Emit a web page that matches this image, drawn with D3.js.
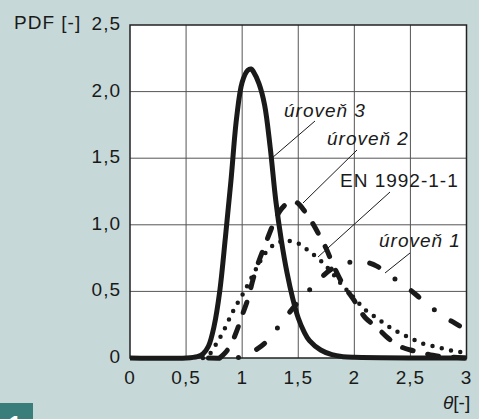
<!DOCTYPE html>
<html lang="cs">
<head>
<meta charset="utf-8">
<title>PDF</title>
<script src="https://cdn.jsdelivr.net/npm/d3@7"></script>
<style>
  body { margin: 0; background: #c6d9d8; }
  text { font-family: "Liberation Sans", Arial, Helvetica, sans-serif; fill: #1a1a1a; }
</style>
</head>
<body>
<script>

    // tick values
    var xTicks = [0, 0.5, 1, 1.5, 2, 2.5, 3];
    var yTicks = [0, 0.5, 1, 1.5, 2, 2.5];

    // úroveň 3 (solid)
    var theta3 = [0, 0.5, 0.6, 0.65, 0.7, 0.75, 0.8, 0.85, 0.9, 0.95, 1.0, 1.05, 1.08, 1.1, 1.15, 1.2, 1.25, 1.3, 1.35, 1.4, 1.45, 1.5, 1.55, 1.6, 1.7, 1.8, 1.9, 2.0, 2.5, 3.0];
    var pdf3 = [0, 0, 0.01, 0.03, 0.09, 0.24, 0.5, 0.9, 1.33, 1.8, 2.07, 2.16, 2.17, 2.15, 2.06, 1.9, 1.58, 1.18, 0.88, 0.64, 0.45, 0.3, 0.2, 0.13, 0.06, 0.025, 0.01, 0.005, 0, 0];

    // úroveň 2 (dashed)
    var theta2 = [0.8, 0.85, 0.9, 0.95, 1.0, 1.05, 1.1, 1.15, 1.2, 1.25, 1.3, 1.35, 1.4, 1.45, 1.5, 1.55, 1.6, 1.65, 1.7, 1.75, 1.8, 1.85, 1.9, 1.95, 2.0, 2.05, 2.1, 2.2, 2.3, 2.4, 2.5, 2.6, 2.7, 2.8, 3.0];
    var pdf2 = [0, 0.04, 0.1, 0.2, 0.32, 0.44, 0.6, 0.73, 0.84, 0.95, 1.05, 1.12, 1.16, 1.18, 1.16, 1.11, 1.05, 0.98, 0.9, 0.82, 0.72, 0.63, 0.55, 0.49, 0.43, 0.36, 0.3, 0.23, 0.15, 0.09, 0.06, 0.04, 0.02, 0.01, 0];

    // EN 1992-1-1 (dotted)
    var thetaEN = [0.65, 0.7, 0.75, 0.8, 0.85, 0.9, 0.95, 1.0, 1.05, 1.1, 1.15, 1.2, 1.3, 1.4, 1.5, 1.6, 1.7, 1.8, 1.9, 2.0, 2.1, 2.2, 2.3, 2.4, 2.5, 2.6, 2.7, 2.8, 2.9, 3.0];
    var pdfEN = [0, 0.02, 0.08, 0.15, 0.23, 0.32, 0.4, 0.47, 0.55, 0.63, 0.71, 0.78, 0.86, 0.88, 0.86, 0.8, 0.73, 0.64, 0.54, 0.45, 0.36, 0.3, 0.24, 0.19, 0.15, 0.11, 0.09, 0.07, 0.05, 0.04];

    // úroveň 1 (dash-dot)
    var theta1 = [0.7, 0.9, 1.0, 1.1, 1.2, 1.3, 1.4, 1.5, 1.6, 1.7, 1.8, 1.9, 2.0, 2.1, 2.2, 2.3, 2.4, 2.5, 2.6, 2.7, 2.8, 2.9, 3.0];
    var pdf1 = [0, 0, 0.01, 0.05, 0.11, 0.21, 0.32, 0.42, 0.51, 0.6, 0.67, 0.71, 0.72, 0.72, 0.69, 0.63, 0.57, 0.51, 0.44, 0.37, 0.31, 0.26, 0.21];

    var w = 479, h = 419;
    var margin = {top: 25, right: 12.5, bottom: 61, left: 130};

    var svg = d3.select("body").append("svg")
        .attr("width", w)
        .attr("height", h);

    var xScale = d3.scaleLinear().domain([0, 3]).range([margin.left, w - margin.right]);
    var yScale = d3.scaleLinear().domain([0, 2.5]).range([h - margin.bottom, margin.top]);

    //plot background
    svg.append("rect")
        .attr("x", xScale(0))
        .attr("y", yScale(2.5))
        .attr("width", xScale(3) - xScale(0))
        .attr("height", yScale(0) - yScale(2.5))
        .attr("fill", "#fff");

    //grid
    svg.selectAll(".vgrid")
        .data(xTicks.slice(1, -1))
        .enter()
        .append("line")
        .attr("x1", function (d) { return xScale(d); })
        .attr("x2", function (d) { return xScale(d); })
        .attr("y1", yScale(0))
        .attr("y2", yScale(2.5))
        .attr("stroke", "#555")
        .attr("stroke-width", 1);

    svg.selectAll(".hgrid")
        .data(yTicks.slice(1, -1))
        .enter()
        .append("line")
        .attr("y1", function (d) { return yScale(d); })
        .attr("y2", function (d) { return yScale(d); })
        .attr("x1", xScale(0))
        .attr("x2", xScale(3))
        .attr("stroke", "#555")
        .attr("stroke-width", 1);

    svg.append("rect")
        .attr("x", xScale(0))
        .attr("y", yScale(2.5))
        .attr("width", xScale(3) - xScale(0))
        .attr("height", yScale(0) - yScale(2.5))
        .attr("fill", "none")
        .attr("stroke", "#222")
        .attr("stroke-width", 1.5);

    //tick labels
    var fmt = function (d) { return String(d).replace(".", ","); };
    var yFmt = function (d) { return d === 0 ? "0" : d3.format(".1f")(d).replace(".", ","); };

    svg.selectAll(".ylab")
        .data(yTicks)
        .enter()
        .append("text")
        .attr("x", 121)
        .attr("y", function (d) { return yScale(d) + 5; })
        .attr("text-anchor", "end")
        .style("font-size", "19px")
        .style("letter-spacing", "1px")
        .text(yFmt);

    svg.selectAll(".xlab")
        .data(xTicks)
        .enter()
        .append("text")
        .attr("x", function (d) { return xScale(d); })
        .attr("y", 384)
        .attr("text-anchor", "middle")
        .style("font-size", "19px")
        .style("letter-spacing", "1px")
        .text(fmt);

    svg.append("text")
        .attr("x", 14)
        .attr("y", 29)
        .style("font-size", "19px")
        .style("letter-spacing", "1px")
        .text("PDF [-]");

    var xt = svg.append("text")
        .attr("x", 443)
        .attr("y", 409)
        .style("font-size", "19px");
    xt.append("tspan").style("font-style", "italic").text("θ");
    xt.append("tspan").text("[-]");

    //curves
    var line = d3.line()
        .x(function (d) { return xScale(d[0]); })
        .y(function (d) { return yScale(Math.max(0, d[1])); })
        .curve(d3.curveCatmullRom.alpha(0.5));

    function zip(a, b) { return a.map(function (v, i) { return [v, b[i]]; }); }

    svg.append("path")
        .datum(zip(theta1, pdf1))
        .attr("d", line)
        .style("fill", "none")
        .style("stroke", "#1a1a1a")
        .style("stroke-width", 5)
        .style("stroke-linecap", "round")
        .style("stroke-dasharray", "10,20,0,20");

    svg.append("path")
        .datum(zip(thetaEN, pdfEN))
        .attr("d", line)
        .style("fill", "none")
        .style("stroke", "#1a1a1a")
        .style("stroke-width", 4.5)
        .style("stroke-linecap", "round")
        .style("stroke-dasharray", "0,9.5");

    svg.append("path")
        .datum(zip(theta2, pdf2))
        .attr("d", line)
        .style("fill", "none")
        .style("stroke", "#1a1a1a")
        .style("stroke-width", 5)
        .style("stroke-linecap", "round")
        .style("stroke-dasharray", "11,15");

    svg.append("path")
        .datum(zip(theta3, pdf3))
        .attr("d", line)
        .style("fill", "none")
        .style("stroke", "#1a1a1a")
        .style("stroke-width", 5)
        .style("stroke-linejoin", "round");

    //labels with leader lines
    var labels = [
        {text: "úroveň 3", italic: true, x: 284, y: 117, lx1: 315, ly1: 121, lx2: 272, ly2: 158},
        {text: "úroveň 2", italic: true, x: 327, y: 145, lx1: 357, ly1: 150, lx2: 303, ly2: 203},
        {text: "EN 1992-1-1", italic: false, x: 340, y: 187, lx1: 390, ly1: 192, lx2: 318, ly2: 257},
        {text: "úroveň 1", italic: true, x: 379, y: 247, lx1: 410, ly1: 253, lx2: 385, ly2: 273}
    ];

    labels.forEach(function (l) {
        svg.append("line")
            .attr("x1", l.lx1).attr("y1", l.ly1)
            .attr("x2", l.lx2).attr("y2", l.ly2)
            .attr("stroke", "#1a1a1a")
            .attr("stroke-width", 1);
        svg.append("text")
            .attr("x", l.x)
            .attr("y", l.y)
            .style("font-size", "19px")
            .style("letter-spacing", "1px")
            .style("font-style", l.italic ? "italic" : "normal")
            .text(l.text);
    });

    //figure number box (number runs off the bottom edge, as in the original)
    svg.append("rect")
        .attr("x", 0).attr("y", 403)
        .attr("width", 33).attr("height", 16)
        .attr("fill", "#3a7e7b");
    svg.append("text")
        .attr("x", 9).attr("y", 431)
        .style("font-size", "22px")
        .style("font-weight", "bold")
        .style("fill", "#fff")
        .text("1");

</script>
</body>
</html>
